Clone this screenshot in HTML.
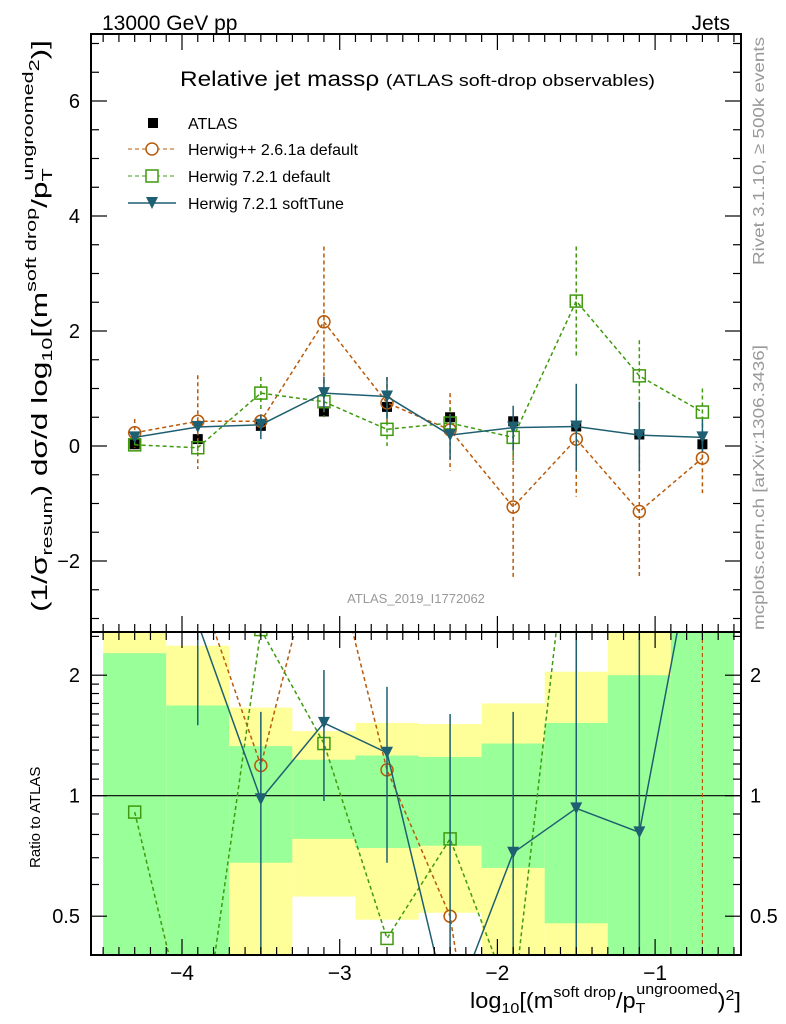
<!DOCTYPE html>
<html><head><meta charset="utf-8"><style>
html,body{margin:0;padding:0;background:#fff;overflow:hidden;}
svg{display:block;font-family:"Liberation Sans",sans-serif;}
</style></head><body>
<svg id="chart" xmlns="http://www.w3.org/2000/svg" width="786" height="1024" viewBox="0 0 786 1024">
<defs>
<clipPath id="clipMain"><rect x="91" y="34" width="650" height="598"/></clipPath>
<clipPath id="clipRatio"><rect x="91" y="632" width="650" height="323"/></clipPath>
</defs>
<g id="bands" clip-path="url(#clipRatio)"></g>
<g id="ratioMarks" clip-path="url(#clipRatio)"></g>
<g id="mainMarks" clip-path="url(#clipMain)"></g>
<g id="axes"></g>
<text x="102" y="30" font-size="21">13000 GeV pp</text>
<text x="730" y="30" font-size="21" text-anchor="end">Jets</text>
<text x="180" y="86" font-size="21" textLength="475" lengthAdjust="spacingAndGlyphs">Relative jet massρ <tspan font-size="17">(ATLAS soft-drop observables)</tspan></text>
<text x="416" y="603" font-size="13" fill="#999" text-anchor="middle">ATLAS_2019_I1772062</text>
<text transform="translate(764,265) rotate(-90)" font-size="16" fill="#999" textLength="228" lengthAdjust="spacingAndGlyphs">Rivet 3.1.10, ≥ 500k events</text>
<text transform="translate(764,630) rotate(-90)" font-size="16" fill="#999" textLength="285" lengthAdjust="spacingAndGlyphs">mcplots.cern.ch [arXiv:1306.3436]</text>
<text transform="translate(47,612) rotate(-90)" font-size="22" textLength="572" lengthAdjust="spacingAndGlyphs">(1/σ<tspan font-size="15" dy="5">resum</tspan><tspan dy="-5">) dσ/d log</tspan><tspan font-size="15" dy="5">10</tspan><tspan dy="-5">[(m</tspan><tspan font-size="15" dy="-11">soft drop</tspan><tspan dy="11">/p</tspan><tspan font-size="15" dy="5">T</tspan><tspan font-size="15" dy="-19" dx="-8">ungroomed</tspan><tspan font-size="15" dy="6">2</tspan><tspan dy="8">)]</tspan></text>
<text transform="translate(40,868) rotate(-90)" font-size="15">Ratio to ATLAS</text>
<text x="470" y="1008" font-size="22" textLength="271" lengthAdjust="spacingAndGlyphs">log<tspan font-size="15" dy="5">10</tspan><tspan dy="-5">[(m</tspan><tspan font-size="15" dy="-11">soft drop</tspan><tspan dy="11">/p</tspan><tspan font-size="15" dy="5">T</tspan><tspan font-size="15" dy="-19" dx="-8">ungroomed</tspan><tspan dy="14">)</tspan><tspan font-size="15" dy="-8">2</tspan><tspan dy="8">]</tspan></text>
<g id="legend">
<g><rect x="148" y="118" width="10" height="10" fill="#000"/><text x="188" y="129" font-size="16">ATLAS</text></g>
<g><line x1="128" y1="149" x2="176" y2="149" stroke="#b85a0a" stroke-dasharray="4,3"/><circle cx="152" cy="149" r="6" fill="#fff" stroke="#b85a0a" stroke-width="1.5"/><text x="188" y="155" font-size="16">Herwig++ 2.6.1a default</text></g>
<g><line x1="128" y1="176" x2="176" y2="176" stroke="#3f9a0e" stroke-dasharray="4,3"/><rect x="146" y="170" width="12" height="12" fill="#fff" stroke="#3f9a0e" stroke-width="1.5"/><text x="188" y="182" font-size="16">Herwig 7.2.1 default</text></g>
<g><line x1="128" y1="203" x2="176" y2="203" stroke="#1f5f72" stroke-width="1.5"/><path d="M146,197 L158,197 L152,209 Z" fill="#1f5f72"/><text x="188" y="209" font-size="16">Herwig 7.2.1 softTune</text></g>
</g>
</svg>
<script>
const xs = [-4.3,-3.9,-3.5,-3.1,-2.7,-2.3,-1.9,-1.5,-1.1,-0.7];
const atlasY = [0.03,0.12,0.35,0.6,0.68,0.5,0.43,0.34,0.2,0.03];
const hppY = [0.23,0.43,0.43,2.16,0.75,0.28,-1.06,0.12,-1.14,-0.21];
const hppHi = [0.47,1.23,0.55,3.47,1.2,0.92,0.35,1.08,0.0,0.22];
const hppLo = [-0.03,-0.4,0.32,0.6,0.4,-0.43,-2.28,-0.88,-2.28,-0.82];
const h7Y = [0.02,-0.03,0.92,0.77,0.29,0.4,0.15,2.52,1.22,0.59];
const h7Hi = [0.08,0.1,1.2,0.9,0.55,0.67,0.4,3.47,1.84,1.0];
const h7Lo = [-0.03,-0.16,0.6,0.5,0.0,0.1,-0.25,1.56,0.6,0.2];
const stY = [0.15,0.33,0.37,0.92,0.86,0.19,0.32,0.34,0.19,0.15];
const stHi = [0.2,0.4,0.55,1.2,1.2,0.55,0.7,1.08,0.77,0.46];
const stLo = [0.1,0.25,0.12,0.6,0.47,-0.23,-0.08,-0.43,-0.44,-0.1];
const binEdges = [-4.5,-4.1,-3.7,-3.3,-2.9,-2.5,-2.1,-1.7,-1.3,-0.9,-0.5];
const yelHi = [3,2.37,1.66,1.45,1.52,1.51,1.70,2.04,3,3];
const grnHi = [2.27,1.68,1.33,1.23,1.26,1.25,1.35,1.52,2.0,3];
const grnLo = [0.2,0.2,0.68,0.78,0.74,0.75,0.66,0.48,0.2,0.2];
const yelLo = [0.2,0.2,0.2,0.56,0.49,0.51,0.2,0.2,0.2,0.2];
const rHpp = [7.6,3.4,1.19,5.0,1.16,0.5,0.05,0.35,0.05,0.05];
const rH7 = [0.91,0.2,2.6,1.35,0.44,0.78,0.3,7,6,20];
const rSt = [5,2.7,0.98,1.52,1.28,0.28,0.72,0.93,0.81,5.5];
const rStHi = [6,4,1.62,2.06,1.87,1.6,1.62,4,4,7];
const rStLo = [4,1.5,0.2,0.97,0.68,0.1,0.2,0.2,0.2,3];
const xTicks = [-4,-3,-2,-1];
const yTicks = [-2,0,2,4,6];
const rTicks = [0.5,1,2];

const NS="http://www.w3.org/2000/svg";
const BOT=955;
const X = v => 182 + (v+4)*157.7;
const Y = v => 446 - v*57.5;
const R = v => 795.7 - Math.log2(Math.max(v,0.01))*120.5;
function mk(parent,tag,attrs){const e=document.createElementNS(NS,tag);for(const k in attrs)e.setAttribute(k,attrs[k]);parent.appendChild(e);return e;}

const bands=document.getElementById('bands');
for(let i=0;i<yelHi.length;i++){
  const x0=X(binEdges[i]), w=X(binEdges[i+1])-x0;
  let e=mk(bands,'rect',{x:x0,y:R(yelHi[i]),width:w,height:R(yelLo[i])-R(yelHi[i]),fill:'#ffff99'});
  
  
  e=mk(bands,'rect',{x:x0,y:R(grnHi[i]),width:w,height:R(grnLo[i])-R(grnHi[i]),fill:'#99ff99'});
  
  
}
mk(bands,'line',{x1:91,x2:741,y1:R(1),y2:R(1),stroke:'#000','stroke-width':1.2});

function marker(g,kind,cx,cy,col){
  let e;
  if(kind==='sq') e=mk(g,'rect',{x:cx-5,y:cy-5,width:10,height:10,fill:'#000'});
  else if(kind==='circ') e=mk(g,'circle',{cx:cx,cy:cy,r:6,fill:'none',stroke:col,'stroke-width':1.5});
  else if(kind==='osq') e=mk(g,'rect',{x:cx-6,y:cy-6,width:12,height:12,fill:'none',stroke:col,'stroke-width':1.5});
  else e=mk(g,'path',{d:`M${cx-6},${cy-6} L${cx+6},${cy-6} L${cx},${cy+6} Z`,fill:col});
  
  
}
function series(g,ys,his,los,fy,kind,col,dash,line){
  if(line){
    const p=mk(g,'polyline',{points:xs.map((x,i)=>X(x)+','+fy(ys[i])).join(' '),fill:'none',stroke:col,'stroke-width':1.5,'stroke-dasharray':dash});
    
    
  }
  if(his) xs.forEach((x,i)=>{
    const l=mk(g,'line',{x1:X(x),x2:X(x),y1:fy(his[i]),y2:fy(los[i]),stroke:col,'stroke-width':1.5,'stroke-dasharray':dash});
    
    
  });
  xs.forEach((x,i)=>marker(g,kind,X(x),fy(ys[i]),col));
}
const OR='#b85a0a', GR='#3f9a0e', ST='#1f5f72';
const mm=document.getElementById('mainMarks');
series(mm,atlasY,null,null,Y,'sq','#000','',false);
series(mm,hppY,hppHi,hppLo,Y,'circ',OR,'4,3',true);
series(mm,h7Y,h7Hi,h7Lo,Y,'osq',GR,'4,3',true);
series(mm,stY,stHi,stLo,Y,'tri',ST,'',true);

const rm=document.getElementById('ratioMarks');
series(rm,rHpp,null,null,R,'circ',OR,'4,3',true);
series(rm,rH7,null,null,R,'osq',GR,'4,3',true);
series(rm,rSt,rStHi,rStLo,R,'tri',ST,'',true);
mk(rm,'line',{x1:X(-0.7),x2:X(-0.7),y1:632,y2:BOT,stroke:OR,'stroke-dasharray':'4,3','stroke-width':1.2});

const ax=document.getElementById('axes');
mk(ax,'rect',{x:91,y:34,width:650,height:BOT-34,fill:'none',stroke:'#000','stroke-width':2});
mk(ax,'line',{x1:91,x2:741,y1:632,y2:632,stroke:'#000','stroke-width':2});
for(let t=-4.5;t<=-0.5+1e-9;t+=0.1){
  const v=Math.round(t*10)/10, maj=Math.abs(v-Math.round(v))<1e-6;
  const L=maj?16:8;
  [34,632].forEach(y=>mk(ax,'line',{x1:X(v),x2:X(v),y1:y,y2:y+L,stroke:'#000','stroke-width':1.2}));
  [632,BOT].forEach(y=>mk(ax,'line',{x1:X(v),x2:X(v),y1:y,y2:y-L,stroke:'#000','stroke-width':1.2}));
}
xTicks.forEach(v=>{const t=mk(ax,'text',{x:X(v),y:980,'font-size':21,'text-anchor':'middle'});t.textContent='\u2212'+Math.abs(v);});
for(let v=-3;v<=7;v+=0.5){
  const maj=Number.isInteger(v)&&v%2===0, L=maj?16:8;
  mk(ax,'line',{x1:91,x2:91+L,y1:Y(v),y2:Y(v),stroke:'#000','stroke-width':1.2});
  mk(ax,'line',{x1:741,x2:741-L,y1:Y(v),y2:Y(v),stroke:'#000','stroke-width':1.2});
}
yTicks.forEach(v=>{const t=mk(ax,'text',{x:80,y:Y(v)+7,'font-size':20,'text-anchor':'end'});t.textContent=(v<0?'\u2212':'')+Math.abs(v);});
const rMinor=[0.4,0.5,0.6,0.7,0.8,0.9,1,1.1,1.2,1.3,1.4,1.5,1.6,1.7,1.8,1.9,2,2.5];
rMinor.forEach(v=>{const maj=rTicks.includes(v),L=maj?16:8;
  mk(ax,'line',{x1:91,x2:91+L,y1:R(v),y2:R(v),stroke:'#000','stroke-width':1.2});
  mk(ax,'line',{x1:741,x2:741-L,y1:R(v),y2:R(v),stroke:'#000','stroke-width':1.2});});
rTicks.forEach(v=>{let t=mk(ax,'text',{x:80,y:R(v)+7,'font-size':20,'text-anchor':'end'});t.textContent=String(v);
  t=mk(ax,'text',{x:750,y:R(v)+7,'font-size':20});t.textContent=String(v);});
</script>
</body></html>
